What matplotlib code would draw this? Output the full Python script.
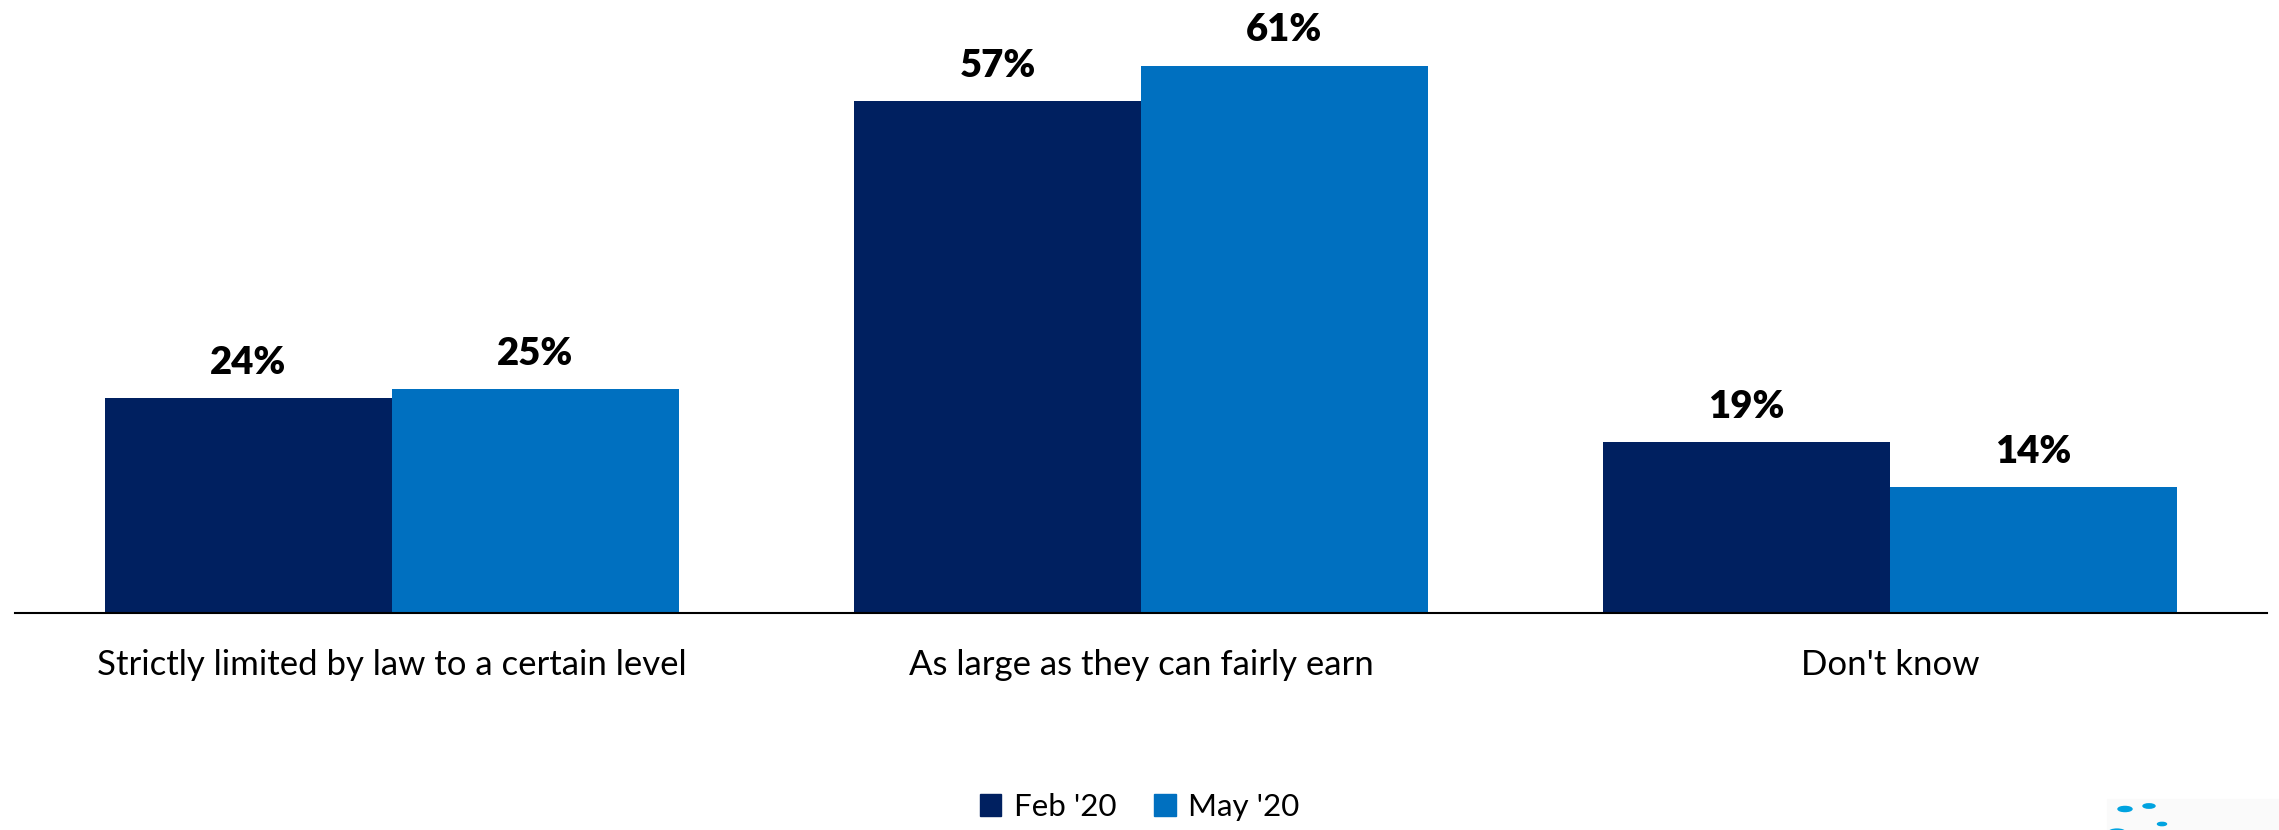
import matplotlib
matplotlib.use("Agg")
import matplotlib.pyplot as plt
import matplotlib.patches as mpatches
import numpy as np

categories = ["Strictly limited by law to a certain level", "As large as they can fairly earn", "Don't know"]
series_names = ["Feb '20", "May '20"]
feb = [24, 57, 19]
may = [25, 61, 14]
colors = ["#002060", "#0070C0"]

plt.rcParams['font.family'] = ['Lato', 'DejaVu Sans']

W, H = 2279, 830
fig = plt.figure(figsize=(W/100, H/100), dpi=100)
ax = fig.add_axes([15/W, (H-613)/H, (2267-15)/W, 613/H])

x = np.arange(len(categories))
bw = 0.383
for i, (vals, name, c) in enumerate(zip([feb, may], series_names, colors)):
    pos = x + (i - 0.5) * bw
    bars = ax.bar(pos, vals, width=bw, color=c, label=name, edgecolor='none')
    for b, v in zip(bars, vals):
        ax.annotate(f"{v}%", (b.get_x() + b.get_width()/2, v), xytext=(0, 13),
                    textcoords='offset points', ha='center', va='bottom',
                    fontsize=27.5, fontweight='heavy', color='black')

ax.set_xlim(-0.503, 2.503)
ax.set_ylim(0, 68.3)
ax.set_xticks(x)
ax.set_xticklabels(categories, fontsize=25)
ax.tick_params(axis='x', length=0, pad=26)
ax.set_yticks([])
for s in ['top', 'right', 'left']:
    ax.spines[s].set_visible(False)
ax.spines['bottom'].set_linewidth(1.5)
ax.spines['bottom'].set_color('black')

handles = [mpatches.Patch(color=c, label=n) for c, n in zip(colors, series_names)]
fig.legend(handles=handles, loc='center', bbox_to_anchor=(0.5, (H-807)/H), ncol=2,
           frameon=False, fontsize=22.5, handlelength=0.7, handleheight=0.7,
           handletextpad=0.4, columnspacing=1.2)

# decorative logo fragment bottom right
fig.patches.append(mpatches.Rectangle((2107/W, 0), (W-2107)/W, 31/H, transform=fig.transFigure,
                                      color='#fafafa', zorder=0))
for cx, cy, r in [(2125, 809, 7), (2149, 806, 6), (2162, 824, 4.5), (2117, 832, 8)]:
    fig.patches.append(mpatches.Circle((cx/W, (H-cy)/H), r/W, transform=fig.transFigure,
                                       color='#00A3E0', zorder=1))

fig.savefig("out.png", dpi=100)
